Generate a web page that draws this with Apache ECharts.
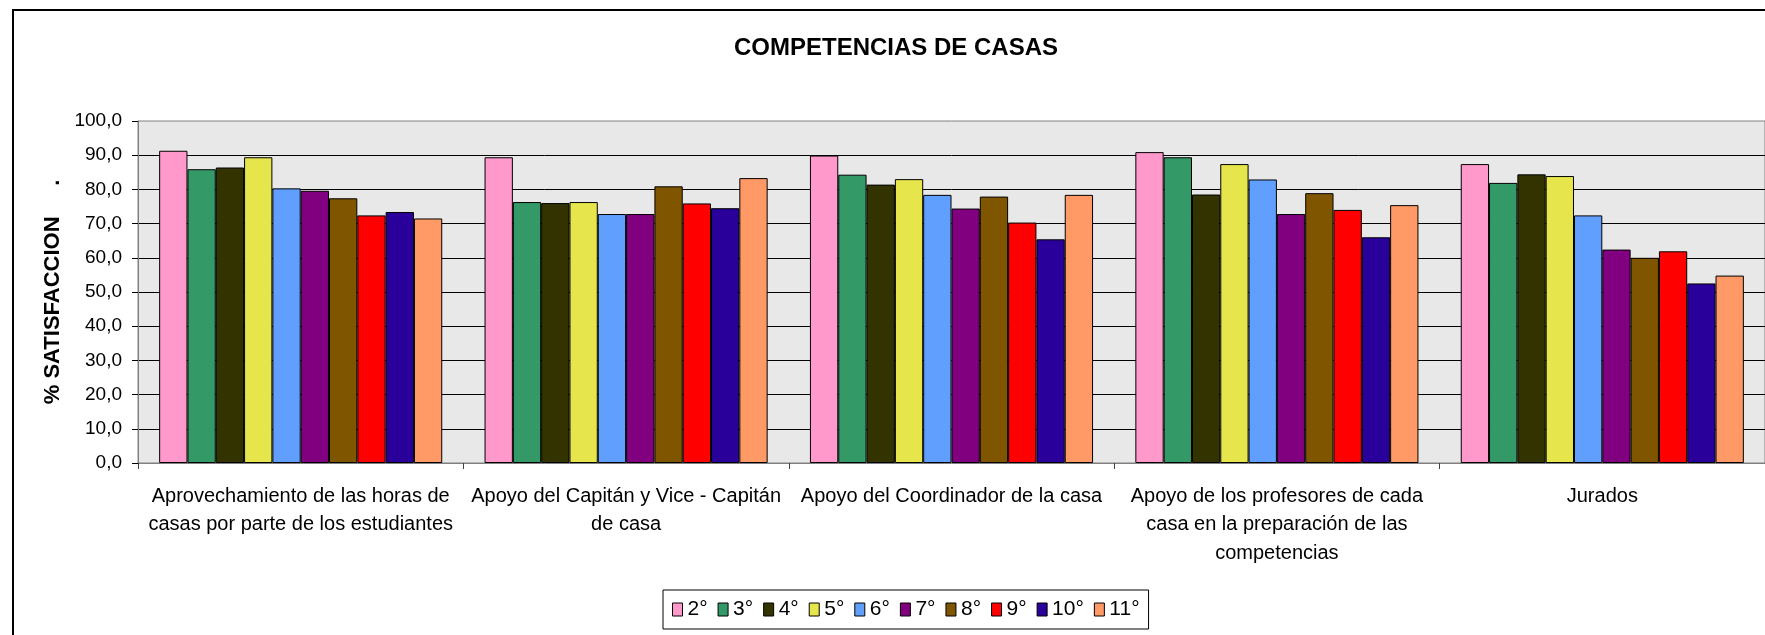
<!DOCTYPE html>
<html>
<head>
<meta charset="UTF-8">
<title>Competencias de casas</title>
<script src="https://cdn.jsdelivr.net/npm/echarts@6/dist/echarts.min.js"></script>
<style>
	html, body { margin: 0; padding: 0; background: #fff; }
	#chart { width: 1765px; height: 635px; }
</style>
</head>
<body>
<div id="chart"></div>
<script type="text/javascript">
	// categorias (con los saltos de linea como en la grafica)
	var categories = [
		'Aprovechamiento de las horas de\ncasas por parte de los estudiantes',
		'Apoyo del Capitán y Vice - Capitán\nde casa',
		'Apoyo del Coordinador de la casa',
		'Apoyo de los profesores de cada\ncasa en la preparación de las\ncompetencias',
		'Jurados'
	];
	var grades = ['2°', '3°', '4°', '5°', '6°', '7°', '8°', '9°', '10°', '11°'];
	var yTicks = [0, 10, 20, 30, 40, 50, 60, 70, 80, 90, 100];

	// % satisfaccion por grado
	var g2  = [91.3, 89.4, 89.9, 90.9, 87.4];
	var g3  = [85.9, 76.3, 84.3, 89.4, 81.9];
	var g4  = [86.4, 76.0, 81.4, 78.5, 84.4];
	var g5  = [89.4, 76.3, 83.0, 87.4, 83.9];
	var g6  = [80.3, 72.8, 78.4, 82.9, 72.4];
	var g7  = [79.6, 72.8, 74.4, 72.8, 62.4];
	var g8  = [77.4, 80.9, 77.9, 78.9, 60.0];
	var g9  = [72.4, 75.9, 70.3, 74.0, 61.9];
	var g10 = [73.4, 74.5, 65.4, 66.0, 52.5];
	var g11 = [71.5, 83.3, 78.4, 75.4, 54.8];
	var gradeValues = [g2, g3, g4, g5, g6, g7, g8, g9, g10, g11];

	var colors = ['#ff99cc', '#339966', '#333300', '#e6e64c', '#619fff',
		'#800080', '#805500', '#ff0000', '#290099', '#ff9966'];

	var font = "'Liberation Sans', Arial, sans-serif";
	var chart = echarts.init(document.getElementById('chart'));

	var series = [];
	for (var i = 0; i < grades.length; i++) {
		series.push({
			name: grades[i],
			type: 'bar',
			data: gradeValues[i],
			barGap: 0,
			barCategoryGap: '13%',
			itemStyle: { color: colors[i], borderColor: '#000', borderWidth: 1 }
		});
	}

	var options = {
		animation: false,
		backgroundColor: '#fff',
		color: colors,
		textStyle: { fontFamily: font },
		title: {
			text: 'COMPETENCIAS DE CASAS',
			left: 734,
			top: 36,
			padding: 0,
			textStyle: { fontFamily: font, fontSize: 24, fontWeight: 'bold', color: '#000' }
		},
		legend: {
			data: grades,
			left: 663,
			top: 590,
			padding: [9, 9],
			itemGap: 10,
			itemWidth: 10,
			itemHeight: 13,
			icon: 'rect',
			borderColor: '#000',
			borderWidth: 1,
			backgroundColor: '#fff',
			itemStyle: { borderColor: '#000', borderWidth: 1 },
			textStyle: { fontFamily: font, fontSize: 21, color: '#000' }
		},
		grid: {
			left: 138,
			top: 121,
			width: 1630,
			height: 342,
			show: true,
			backgroundColor: '#e8e8e8',
			borderColor: '#808080',
			borderWidth: 1
		},
		xAxis: {
			type: 'category',
			data: categories,
			axisLine: { lineStyle: { color: '#808080', width: 1 } },
			axisTick: { show: true, length: 6, lineStyle: { color: '#404040' } },
			axisLabel: {
				interval: 0,
				margin: 19,
				color: '#000',
				fontFamily: font,
				fontSize: 20,
				lineHeight: 28.5
			}
		},
		yAxis: {
			type: 'value',
			min: yTicks[0],
			max: yTicks[yTicks.length - 1],
			interval: 10,
			name: '% SATISFACCION     .',
			nameLocation: 'middle',
			nameRotate: 90,
			nameGap: 73,
			nameTextStyle: { fontFamily: font, fontSize: 22, fontWeight: 'bold', color: '#000' },
			axisLine: { show: true, lineStyle: { color: '#808080', width: 1 } },
			axisTick: { show: true, length: 6, lineStyle: { color: '#000' } },
			axisLabel: {
				margin: 16,
				color: '#000',
				fontFamily: font,
				fontSize: 19,
				formatter: function (v) { return v.toFixed(1).replace('.', ','); }
			},
			splitLine: {
				show: true,
				showMinLine: false,
				showMaxLine: false,
				lineStyle: { color: '#000', width: 1 }
			}
		},
		graphic: [{
			type: 'rect',
			silent: true,
			shape: { x: 13, y: 10, width: 1800, height: 700 },
			style: { fill: null, stroke: '#000', lineWidth: 2 }
		}],
		series: series
	};
	chart.setOption(options);
	window.addEventListener('resize', function () { chart.resize(); });
</script>
</body>
</html>
